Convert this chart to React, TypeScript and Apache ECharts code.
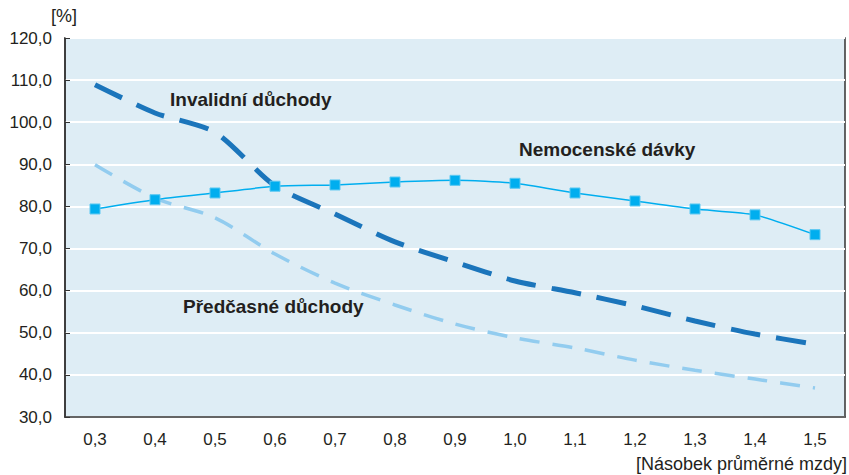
import React, { useEffect, useRef } from "react";
import * as echarts from "echarts";

const categories = ["0,3", "0,4", "0,5", "0,6", "0,7", "0,8", "0,9", "1,0", "1,1", "1,2", "1,3", "1,4", "1,5"];
const nemocenske = [79.4, 81.6, 83.2, 84.8, 85.1, 85.8, 86.2, 85.5, 83.2, 81.3, 79.4, 78.0, 73.3];
const invalidni = [108.9, 102.2, 97.6, 84.9, 78.2, 71.6, 66.8, 62.3, 59.5, 56.4, 52.8, 49.7, 47.3];
const predcasne = [89.9, 82.0, 77.3, 68.7, 61.8, 56.6, 52.1, 48.8, 46.4, 43.5, 41.1, 39.0, 36.9];
const yTicks = { min: 30, max: 120, interval: 10 };

const FONT = "'Liberation Sans', Arial, Helvetica, sans-serif";

export default function App() {
  const ref = useRef<HTMLDivElement>(null);
  useEffect(() => {
    const chart = echarts.init(ref.current!, undefined, { renderer: "svg" });
    chart.setOption({
      animation: false,
      textStyle: { fontFamily: FONT },
      grid: {
        left: 65,
        top: 38,
        width: 780,
        height: 379,
        show: true,
        backgroundColor: "#deedf5",
        borderColor: "#333333",
        borderWidth: 1.5,
      },
      xAxis: {
        type: "category",
        data: categories,
        boundaryGap: true,
        axisLine: { lineStyle: { color: "#333333", width: 1.5 } },
        axisTick: { inside: true, length: 5, lineStyle: { color: "#333333" } },
        axisLabel: { color: "#231f20", fontSize: 17, margin: 14, fontFamily: FONT },
        splitLine: { show: false },
      },
      yAxis: {
        type: "value",
        min: yTicks.min,
        max: yTicks.max,
        interval: yTicks.interval,
        axisLine: { show: true, lineStyle: { color: "#333333", width: 1.5 } },
        axisTick: { show: true, inside: true, length: 5, lineStyle: { color: "#333333" } },
        axisLabel: {
          color: "#231f20",
          fontSize: 17,
          margin: 13,
          fontFamily: FONT,
          formatter: (v: number) => v.toFixed(1).replace(".", ","),
        },
        splitLine: { show: true, lineStyle: { color: "#ffffff", width: 2 } },
      },
      series: [
        {
          name: "Předčasné důchody",
          type: "line",
          data: predcasne,
          smooth: 0.3,
          symbol: "none",
          lineStyle: { color: "#92ccef", width: 3.5, type: [20, 13] },
          z: 2,
        },
        {
          name: "Invalidní důchody",
          type: "line",
          data: invalidni,
          smooth: 0.25,
          symbol: "none",
          lineStyle: { color: "#1b75bb", width: 5, type: [30, 16] },
          z: 3,
        },
        {
          name: "Nemocenské dávky",
          type: "line",
          data: nemocenske,
          smooth: 0.2,
          symbol: "rect",
          symbolSize: 10,
          itemStyle: { color: "#00aeef", borderColor: "#5cc8f2", borderWidth: 1 },
          lineStyle: { color: "#00aeef", width: 1.5 },
          z: 4,
        },
      ],
      graphic: [
        { type: "text", left: 51, top: 7, style: { text: "[%]", fontSize: 18, fill: "#231f20", fontFamily: FONT } },
        {
          type: "text",
          right: 2,
          top: 455,
          style: { text: "[Násobek průměrné mzdy]", fontSize: 18, fill: "#231f20", fontFamily: FONT },
        },
        {
          type: "text",
          left: 170,
          top: 90,
          style: { text: "Invalidní důchody", fontSize: 19, fontWeight: "bold", fill: "#231f20", fontFamily: FONT },
        },
        {
          type: "text",
          left: 519,
          top: 140,
          style: { text: "Nemocenské dávky", fontSize: 19, fontWeight: "bold", fill: "#231f20", fontFamily: FONT },
        },
        {
          type: "text",
          left: 183,
          top: 297,
          style: { text: "Předčasné důchody", fontSize: 19, fontWeight: "bold", fill: "#231f20", fontFamily: FONT },
        },
      ],
    });
    return () => chart.dispose();
  }, []);
  return (
    <div
      ref={ref}
      style={{ position: "fixed", left: 0, top: 0, width: 849, height: 475, background: "#ffffff" }}
    />
  );
}
